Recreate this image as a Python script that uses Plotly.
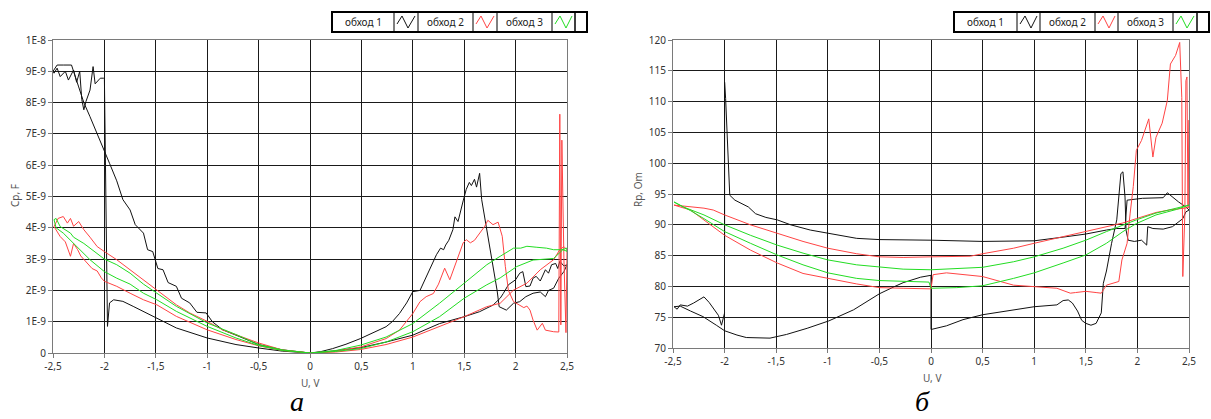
import plotly.graph_objects as go

W, H = 1211, 419

# ---------------- data: chart a (Cp, values in units of 1E-9 F) ----------------
cp_u1 = [0, 0.22, 0.49, 0.74, 1.0, 1.26, 1.5, 1.65, 1.78, 1.85, 1.88, 1.93, 2.0, 2.04, 2.07, 2.1, 2.14, 2.17, 2.2, 2.24, 2.29, 2.32, 2.35, 2.39, 2.41, 2.43, 2.47, 2.5,
         2.47, 2.42, 2.37, 2.32, 2.29, 2.24, 2.17, 2.1, 2.04, 1.98, 1.91, 1.87, 1.84,
         1.82, 1.78, 1.72, 1.67, 1.65, 1.62, 1.6, 1.57, 1.55, 1.52, 1.49, 1.47, 1.44, 1.41, 1.39, 1.35, 1.32, 1.3, 1.27, 1.23, 1.18, 1.13, 1.07, 1.0, 0.94, 0.87, 0.8, 0.74, 0.6, 0.49, 0.35, 0.22, 0.1, 0,
         -0.27, -0.5, -0.69, -0.85, -0.95, -1.01, -1.1, -1.17, -1.25, -1.3, -1.38, -1.43, -1.48, -1.53, -1.58, -1.62, -1.7, -1.75, -1.82, -1.88, -1.95, -2.03, -2.07, -2.14, -2.2, -2.25, -2.3, -2.32, -2.4, -2.46, -2.5,
         -2.49, -2.46, -2.43, -2.38, -2.35, -2.3, -2.27, -2.24, -2.22, -2.2, -2.18, -2.14, -2.11, -2.09, -2.04, -2.01, -2.0, -1.97,
         -1.95, -1.91, -1.82, -1.72, -1.62, -1.49, -1.3, -1.0, -0.72, -0.5, -0.27, 0]
cp_v1 = [0, 0.06, 0.17, 0.35, 0.57, 0.94, 1.16, 1.32, 1.53, 1.75, 1.9, 2.18, 2.34, 2.55, 2.6, 2.12, 2.14, 2.39, 2.45, 2.3, 2.66, 2.55, 2.82, 2.86, 2.7, 2.93, 2.78, 2.82,
         2.6, 2.39, 2.07, 2.0, 1.8, 1.95, 1.91, 1.8, 1.64, 1.59, 1.37, 1.43, 1.48,
         2.0, 2.77, 3.94, 4.9, 5.74, 5.3, 5.55, 5.35, 5.45, 5.23, 4.86, 4.6, 4.2, 4.35, 3.94, 3.6, 3.45, 3.3, 3.35, 3.14, 2.8, 2.44, 2.0, 1.96, 1.6, 1.26, 1.0, 0.84, 0.63, 0.46, 0.28, 0.14, 0.04, 0,
         0.1, 0.27, 0.53, 0.74, 1.0, 1.28, 1.3, 1.6, 1.75, 2.13, 2.25, 2.66, 2.7, 3.24, 3.3, 3.83, 4.1, 4.57, 4.9, 5.5, 6.06, 6.65, 7.0, 7.55, 8.0, 8.5, 9.0, 9.2, 9.2, 9.2, 9.0,
         8.94, 9.1, 8.83, 9.0, 8.72, 9.04, 8.65, 9.0, 8.1, 7.77, 8.03, 8.4, 9.15, 8.6, 8.78, 8.78, 8.78, 0.85,
         1.6, 1.7, 1.65, 1.49, 1.33, 1.12, 0.8, 0.48, 0.27, 0.16, 0.06, 0]

cp_u2 = [0, 0.25, 0.49, 0.74, 1.0, 1.26, 1.5, 1.72, 1.85, 1.98, 2.11, 2.24, 2.37, 2.43, 2.47, 2.5,
         2.49, 2.47, 2.45, 2.44, 2.43, 2.42,
         2.37, 2.29, 2.26, 2.21, 2.17, 2.14, 2.11, 2.08, 2.04, 1.98, 1.93, 1.9, 1.87, 1.83, 1.78, 1.73, 1.7, 1.65, 1.6, 1.56, 1.52, 1.49, 1.43, 1.36, 1.31, 1.25, 1.2, 1.13, 1.07, 1.0, 0.87, 0.74, 0.49, 0.25, 0,
         -0.27, -0.5, -0.72, -0.85, -1.0, -1.17, -1.3, -1.49, -1.62, -1.75, -1.88, -2.0, -2.07, -2.14, -2.2, -2.25, -2.3, -2.33, -2.36, -2.4, -2.45, -2.49,
         -2.46, -2.43, -2.38, -2.33, -2.3, -2.26, -2.23, -2.17, -2.12, -2.07, -2.03, -2.0, -1.88, -1.75, -1.62, -1.49, -1.3, -1.0, -0.72, -0.5, -0.27, 0]
cp_v2 = [0, 0.03, 0.11, 0.27, 0.51, 0.84, 1.16, 1.48, 1.59, 2.01, 2.23, 2.66, 2.98, 3.3, 3.4, 3.3,
         0.65, 3.0, 6.8, 0.9, 7.63, 0.67,
         0.68, 0.73, 0.95, 0.73, 1.05, 1.37, 1.5, 1.45, 1.53, 1.64, 2.0, 2.77, 3.73, 4.18, 4.1, 4.24, 4.05, 3.84, 3.6, 3.52, 3.62, 3.52, 2.98, 2.34, 2.71, 2.2, 1.9, 1.8, 1.64, 1.26, 0.73, 0.46, 0.19, 0.06, 0,
         0.1, 0.32, 0.6, 0.74, 1.01, 1.28, 1.54, 2.02, 2.34, 2.66, 2.98, 3.24, 3.4, 3.7, 3.94, 4.2, 4.05, 4.3, 4.15, 4.36, 4.3, 4.04,
         3.9, 3.72, 3.55, 3.09, 3.5, 3.3, 3.1, 2.87, 2.7, 2.62, 2.4, 2.29, 2.13, 1.91, 1.7, 1.54, 1.17, 0.74, 0.43, 0.23, 0.08, 0]

cp_u3 = [0, 0.25, 0.49, 0.74, 1.0, 1.26, 1.5, 1.72, 1.85, 2.01, 2.17, 2.37, 2.46, 2.5,
         2.5, 2.45, 2.37, 2.3, 2.2, 2.11, 2.05, 1.98, 1.85, 1.72, 1.5, 1.26, 1.0, 0.74, 0.49, 0.25, 0,
         -0.27, -0.5, -0.72, -1.0, -1.3, -1.49, -1.62, -1.75, -1.88, -2.0, -2.1, -2.2, -2.3, -2.33, -2.43, -2.47, -2.49,
         -2.47, -2.4, -2.3, -2.24, -2.14, -2.0, -1.88, -1.75, -1.62, -1.49, -1.3, -1.0, -0.72, -0.5, -0.27, 0]
cp_v3 = [0, 0.05, 0.14, 0.35, 0.68, 1.16, 1.75, 2.18, 2.4, 2.76, 2.97, 3.02, 3.3, 3.25,
         3.35, 3.3, 3.3, 3.35, 3.38, 3.41, 3.35, 3.35, 3.09, 2.82, 2.23, 1.59, 0.94, 0.51, 0.25, 0.08, 0,
         0.1, 0.27, 0.59, 0.96, 1.49, 1.91, 2.2, 2.55, 2.82, 3.0, 3.25, 3.5, 3.7, 3.83, 4.04, 4.3, 4.26,
         4.0, 3.83, 3.51, 3.3, 2.98, 2.6, 2.39, 2.2, 1.91, 1.7, 1.33, 0.85, 0.48, 0.24, 0.08, 0]

# ---------------- data: chart б (Rp, Om) ----------------
rp_u1 = [-2.0, -2.0, -1.99, -1.98, -1.96, -1.95, -1.9, -1.84, -1.77, -1.7, -1.6, -1.49, -1.36, -1.17, -1.0, -0.72, -0.5, -0.27, 0.0, 0.5, 1.0, 1.28, 1.5, 1.7, 1.8, 1.88, 1.9, 2.05, 2.25, 2.29, 2.33, 2.4, 2.47, 2.5,
         2.47, 2.44, 2.34, 2.25, 2.15, 2.1, 2.09, 2.04, 1.97, 1.91, 1.89, 1.88, 1.86, 1.84, 1.8, 1.75, 1.7, 1.67, 1.65, 1.6, 1.55, 1.5, 1.46, 1.42, 1.37, 1.33, 1.28, 1.22, 1.0, 0.8, 0.5, 0.31, 0.15, 0.0, 0.0,
         -0.1, -0.27, -0.35, -0.5, -0.75, -0.99, -1.2, -1.4, -1.56, -1.79, -1.88, -2.0, -2.08, -2.21, -2.33, -2.43, -2.49,
         -2.46, -2.43, -2.36, -2.3, -2.25, -2.2, -2.15, -2.11, -2.06, -2.03, -2.02, -2.0]
rp_v1 = [85.6, 113.15, 110.5, 106.4, 99.9, 94.8, 94.0, 93.5, 92.9, 91.8, 91.2, 90.8, 90.0, 89.15, 88.6, 87.8, 87.6, 87.6, 87.5, 87.3, 87.4, 88.0, 88.5, 89.15, 89.4, 89.4, 94.0, 94.3, 94.4, 95.2, 94.6, 93.7, 92.9, 92.4,
         92.1, 91.0, 89.7, 89.3, 89.4, 89.7, 86.7, 87.5, 87.3, 87.5, 89.15, 94.5, 98.6, 98.3, 90.8, 87.0, 82.5, 80.5, 75.7, 74.0, 73.7, 74.0, 74.5, 76.0, 77.3, 77.8, 77.7, 77.0, 76.7, 76.2, 75.4, 74.6, 73.6, 73.0, 81.8,
         81.5, 80.6, 80.0, 78.8, 76.2, 74.4, 73.2, 72.2, 71.6, 71.7, 72.1, 72.8, 73.7, 75.1, 76.0, 76.8, 76.7,
         76.3, 77.0, 76.8, 77.3, 77.8, 78.3, 77.4, 76.5, 75.3, 73.7, 74.5, 75.7]

rp_u2 = [-2.49, -2.33, -2.2, -2.11, -2.0, -1.75, -1.49, -1.24, -1.0, -0.72, -0.5, -0.27, 0.0, 0.38, 0.5, 0.8, 1.0, 1.28, 1.5, 1.7, 1.86, 1.99, 2.18, 2.31, 2.44, 2.5,
         2.5, 2.49, 2.48, 2.47, 2.46, 2.44, 2.43, 2.41,
         2.37, 2.32, 2.29, 2.24, 2.18, 2.15, 2.11, 2.04, 1.99, 1.96, 1.93, 1.9, 1.85, 1.82, 1.7, 1.65, 1.6, 1.5, 1.4, 1.35, 1.22, 1.0, 0.8, 0.5, 0.3, 0.15, 0.02, 0.0,
         -0.27, -0.5, -0.72, -1.0, -1.24, -1.49, -1.75, -2.0, -2.07, -2.2, -2.33, -2.49]
rp_v2 = [93.2, 92.9, 92.7, 92.4, 91.6, 90.0, 88.6, 87.3, 86.2, 85.3, 84.8, 84.7, 84.8, 84.9, 85.3, 86.2, 87.0, 88.1, 88.9, 89.7, 90.3, 91.0, 92.0, 92.4, 92.7, 92.8,
         107.0, 92.9, 114.0, 113.4, 91.8, 81.6, 110.7, 119.6,
         117.5, 116.1, 110.2, 106.5, 104.2, 101.0, 107.2, 103.7, 102.1, 96.2, 91.9, 87.0, 84.3, 80.8, 80.2, 78.9, 79.0, 79.2, 79.0, 78.9, 79.7, 80.0, 80.2, 81.6, 82.0, 82.2, 81.9, 79.6,
         79.7, 79.8, 80.4, 81.3, 82.1, 83.8, 85.9, 88.3, 89.15, 90.8, 92.4, 93.2]

rp_u3 = [-2.49, -2.4, -2.2, -2.0, -1.75, -1.49, -1.24, -1.0, -0.72, -0.5, -0.27, 0.0, 0.5, 0.8, 1.0, 1.28, 1.5, 1.7, 1.86, 1.99, 2.18, 2.38, 2.5,
         2.38, 2.18, 1.99, 1.86, 1.7, 1.5, 1.28, 1.0, 0.8, 0.5, 0.25, 0.0, -0.02, -0.27, -0.5, -0.72, -1.0, -1.24, -1.49, -1.75, -2.0, -2.2, -2.33, -2.49]
rp_v3 = [93.7, 92.9, 91.6, 90.0, 88.3, 86.7, 85.4, 84.3, 83.5, 83.1, 82.8, 82.7, 83.1, 84.0, 84.8, 86.2, 87.5, 88.9, 90.0, 90.8, 91.9, 92.7, 93.2,
         92.5, 91.6, 90.2, 88.9, 87.0, 85.1, 83.8, 82.2, 81.3, 80.1, 79.8, 79.7, 80.7, 80.8, 80.95, 81.3, 82.2, 83.5, 85.1, 87.0, 88.9, 91.0, 92.3, 93.7]

series_names = ["обход 1", "обход 2", "обход 3"]
series_colors = ["#111111", "#ff4444", "#22dd22"]

u_ticks = [-2.5, -2, -1.5, -1, -0.5, 0, 0.5, 1, 1.5, 2, 2.5]
u_ticktext = ["-2,5", "-2", "-1,5", "-1", "-0,5", "0", "0,5", "1", "1,5", "2", "2,5"]
cp_ticks = list(range(0, 11))
cp_ticktext = ["0", "1E-9", "2E-9", "3E-9", "4E-9", "5E-9", "6E-9", "7E-9", "8E-9", "9E-9", "1E-8"]
rp_ticks = [70, 75, 80, 85, 90, 95, 100, 105, 110, 115, 120]
rp_ticktext = [str(v) for v in rp_ticks]

fig = go.Figure()
left = [(cp_u1, cp_v1), (cp_u2, cp_v2), (cp_u3, cp_v3)]
right = [(rp_u1, rp_v1), (rp_u2, rp_v2), (rp_u3, rp_v3)]
for (u, v), name, col in zip(left, series_names, series_colors):
    fig.add_trace(go.Scatter(x=u, y=v, mode="lines", name=name, line=dict(color=col, width=1),
                             xaxis="x", yaxis="y", showlegend=False))
for (u, v), name, col in zip(right, series_names, series_colors):
    fig.add_trace(go.Scatter(x=u, y=v, mode="lines", name=name, line=dict(color=col, width=1),
                             xaxis="x2", yaxis="y2", showlegend=False))

def px(x):
    return x / W

def py(y):
    return 1 - y / H

tickfont = dict(family="Noto Sans, DejaVu Sans, sans-serif", size=10, color="#333333")
common_axis = dict(showgrid=True, gridcolor="#1a1a1a", gridwidth=1, zeroline=False,
                   showline=True, linecolor="#7a7a7a", linewidth=1, mirror=True,
                   ticks="outside", ticklen=4, tickcolor="#7a7a7a", tickfont=tickfont, automargin=False)

fig.update_layout(
    width=W, height=H, margin=dict(l=0, r=0, t=0, b=0, pad=0, autoexpand=False),
    paper_bgcolor="white", plot_bgcolor="white", showlegend=False,
    xaxis=dict(domain=[px(53), px(567)], range=[-2.5, 2.5], tickvals=u_ticks, ticktext=u_ticktext,
               anchor="y", **common_axis),
    yaxis=dict(domain=[py(353), py(40)], range=[0, 10], tickvals=cp_ticks, ticktext=cp_ticktext,
               anchor="x", **common_axis),
    xaxis2=dict(domain=[px(673), px(1189)], range=[-2.5, 2.5], tickvals=u_ticks, ticktext=u_ticktext,
                anchor="y2", **common_axis),
    yaxis2=dict(domain=[py(348), py(40)], range=[70, 120], tickvals=rp_ticks, ticktext=rp_ticktext,
                anchor="x2", **common_axis),
)

shapes = []
annotations = []
labfont = dict(family="Noto Sans, DejaVu Sans, sans-serif", size=10, color="#555555")

# axis titles
annotations.append(dict(x=px(310), y=py(383), xref="paper", yref="paper", text="U, V", showarrow=False,
                        font=labfont, xanchor="center", yanchor="middle"))
annotations.append(dict(x=px(932), y=py(378), xref="paper", yref="paper", text="U, V", showarrow=False,
                        font=labfont, xanchor="center", yanchor="middle"))
annotations.append(dict(x=px(15), y=py(196), xref="paper", yref="paper", text="Cp, F", showarrow=False,
                        font=labfont, textangle=-90, xanchor="center", yanchor="middle"))
annotations.append(dict(x=px(638), y=py(190), xref="paper", yref="paper", text="Rp, Om", showarrow=False,
                        font=labfont, textangle=-90, xanchor="center", yanchor="middle"))

# captions
capfont = dict(family="Liberation Serif, Times New Roman, serif", size=28, color="#000000")
annotations.append(dict(x=px(297), y=0, xref="paper", yref="paper", text="<i>а</i>", showarrow=False,
                        font=capfont, xanchor="center", yanchor="bottom"))
annotations.append(dict(x=px(922), y=0, xref="paper", yref="paper", text="<i>б</i>", showarrow=False,
                        font=capfont, xanchor="center", yanchor="bottom"))

# legends (text cell then line-icon cell, like the original instrument legend)
def legend(cells, top, bottom):
    x0, x1 = cells[0][0], cells[-1][1]
    shapes.append(dict(type="rect", xref="paper", yref="paper", x0=px(x0), x1=px(x1), y0=py(bottom), y1=py(top),
                       line=dict(color="#000000", width=2), fillcolor="white", layer="above"))
    for i, (a, b) in enumerate(cells[:-1]):
        k = i // 2
        if i % 2 == 0:
            annotations.append(dict(x=px((a + b) / 2), y=py((top + bottom) / 2), xref="paper", yref="paper",
                                    text=series_names[k], showarrow=False,
                                    font=dict(family="Noto Sans, DejaVu Sans, sans-serif", size=10, color="#222222"),
                                    xanchor="center", yanchor="middle"))
        else:
            shapes.append(dict(type="rect", xref="paper", yref="paper", x0=px(a), x1=px(b), y0=py(bottom), y1=py(top),
                               line=dict(color="#000000", width=1), layer="above"))
            pts = [(a + 3, top + 12), (a + 8, top + 4), (a + 14, bottom - 4), (b - 3, top + 4)]
            path = "M " + " L ".join(f"{px(x):.5f},{py(y):.5f}" for x, y in pts)
            shapes.append(dict(type="path", xref="paper", yref="paper", path=path,
                               line=dict(color=series_colors[k], width=1), layer="above"))
    a, b = cells[-1]
    shapes.append(dict(type="line", xref="paper", yref="paper", x0=px(a), x1=px(a), y0=py(bottom), y1=py(top),
                       line=dict(color="#000000", width=1), layer="above"))

legend([(332, 394), (394, 418), (418, 473), (473, 497), (497, 552), (552, 575), (575, 587)], 12, 32)
legend([(954, 1017), (1017, 1040), (1040, 1095), (1095, 1118), (1118, 1173), (1173, 1197), (1197, 1209)], 12, 32)

fig.update_layout(shapes=shapes, annotations=annotations)
fig.write_html("out.html", config={"displayModeBar": False},
               post_script="document.body.style.margin='0px';")
